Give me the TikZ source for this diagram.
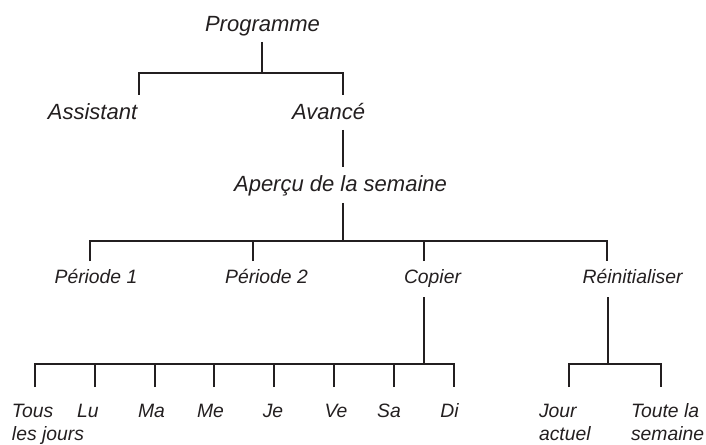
\documentclass[tikz,border=0pt]{standalone}
\usepackage{fontspec}
\setmainfont{Liberation Sans}
\definecolor{ink}{RGB}{35,31,32}

\begin{document}
\begin{tikzpicture}[x=0.75pt, y=-0.75pt, line width=1.5pt, ink,
    lvl/.style={font=\fontsize{16.5}{20}\selectfont\itshape, inner sep=0pt, anchor=base},
    sub/.style={font=\fontsize{14.5}{17.25}\selectfont\itshape, inner sep=0pt, anchor=base}]
    \useasboundingbox (0,0) rectangle (706,445);

    % Programme
    \node[lvl] (prog) at (262.5,32) {Programme};
    \node[lvl] (assist) at (92.5,120) {Assistant};
    \node[lvl] (avance) at (328.5,120) {Avancé};
    \coordinate (p0) at (262,42);
    \coordinate (p1) at (262,73);
    \coordinate (assT) at (139,95);
    \coordinate (avaT) at (343,95);
    \draw (p0) -- (p1);
    \draw (assT) |- (p1) -| (avaT);

    % Apercu
    \node[lvl] (apercu) at (340.5,192) {Aperçu de la semaine};
    \coordinate (avaB) at (343,130);
    \coordinate (apeT) at (343,167);
    \draw (avaB) -- (apeT);

    % Periodes
    \node[sub] (per1) at (96,283) {Période 1};
    \node[sub] (per2) at (266.5,283) {Période 2};
    \node[sub] (copier) at (432.5,283) {Copier};
    \node[sub] (reinit) at (632.5,283) {Réinitialiser};
    \coordinate (apeB) at (343,203);
    \coordinate (a1) at (343,241);
    \coordinate (per1T) at (90,261);
    \coordinate (per2T) at (253,261);
    \coordinate (copT) at (424,261);
    \coordinate (reiT) at (607,261);
    \draw (apeB) -- (a1);
    \draw (per1T) |- (a1) -| (reiT);
    \foreach \n in {per2T,copT}
        \draw (\n) -- (\n |- a1);

    % Jours
    \node[sub, anchor=base west, align=left] (tous) at (11,440) {Tous\\les jours};
    \foreach \x/\t/\n in {88/Lu/lu, 151.5/Ma/ma, 210.5/Me/me, 273/Je/je,
                          336/Ve/ve, 389/Sa/sa, 449.5/Di/di}
        \node[sub] (\n) at (\x,417) {\t};
    \foreach \x [count=\i] in {35,95,155,214,274,334,394,454}
        \coordinate (d\i) at (\x,387);
    \coordinate (copB) at (424,297);
    \coordinate (c1) at (424,364);
    \draw (copB) -- (c1);
    \draw (d1) |- (c1) -| (d8);
    \foreach \i in {2,...,7}
        \draw (d\i) -- (d\i |- c1);

    % Reinitialiser
    \node[sub, anchor=base west, align=left] (jour) at (538,440) {Jour\\actuel};
    \node[sub, anchor=base west, align=left] (toute) at (630,440) {Toute la\\semaine};
    \coordinate (reiB) at (608,297);
    \coordinate (r1) at (608,364);
    \coordinate (jourT) at (569,387);
    \coordinate (touteT) at (661,387);
    \draw (reiB) -- (r1);
    \draw (jourT) |- (r1) -| (touteT);
\end{tikzpicture}
\end{document}
